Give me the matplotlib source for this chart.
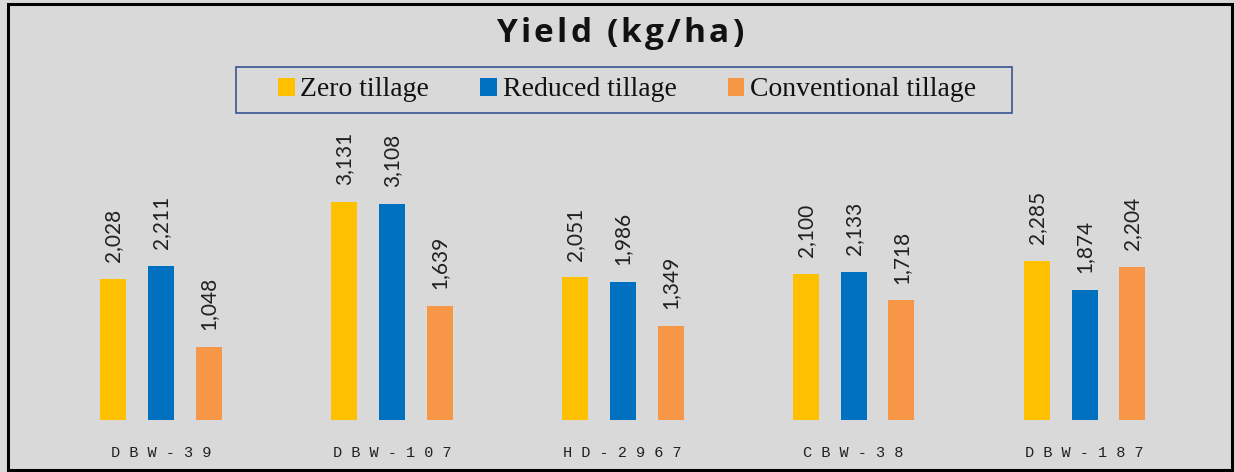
import numpy as np
from matplotlib import pyplot as plt
from matplotlib.patches import Rectangle, Patch

# data
varieties = ['DBW-39', 'DBW-107', 'HD-2967', 'CBW-38', 'DBW-187']
zeroTill = [2028, 3131, 2051, 2100, 2285]
reducedTill = [2211, 3108, 1986, 2133, 1874]
convTill = [1048, 1639, 1349, 1718, 2204]
seriesNames = ['Zero tillage', 'Reduced tillage', 'Conventional tillage']
seriesColors = ['#FFC000', '#0070C0', '#F79646']
title = 'Yield (kg/ha)'

W, H = 1235, 472
bg = '#D9D9D9'
fig = plt.figure(figsize=(W / 100, H / 100), dpi=100)
fig.patch.set_facecolor(bg)

# outer frame
fig.patches.append(Rectangle((8 / W, 2 / H), 1224 / W, 466 / H,
                             transform=fig.transFigure, fill=False,
                             edgecolor='black', linewidth=2.2))

ax = fig.add_axes([45.5 / W, 1 - 420 / H, 1154.5 / W, 243.6 / H])
ax.set_facecolor(bg)
for s in ax.spines.values():
    s.set_visible(False)

x = np.arange(len(varieties))
width = 0.1126
offset = 0.207
allSeries = [zeroTill, reducedTill, convTill]
for i, (vals, col) in enumerate(zip(allSeries, seriesColors)):
    pos = x + (i - 1) * offset
    ax.bar(pos, vals, width, color=col, edgecolor='none')
    for p, v in zip(pos, vals):
        ax.annotate(f'{v:,}', (p, v), xytext=(0, 12), textcoords='offset points',
                    rotation=90, ha='center', va='bottom', fontsize=15,
                    family='Lato', color='#202020')

ax.set_xlim(-0.5, len(varieties) - 0.5)
ax.set_ylim(0, 3500)
ax.set_yticks([])
ax.set_xticks(x)
ax.set_xticklabels([' '.join(v) for v in varieties], family='Liberation Mono',
                   fontsize=11, color='#202020')
ax.tick_params(axis='x', length=0, pad=19)

# title with slightly expanded letter spacing (like the original)
r = fig.canvas.get_renderer()
tprops = dict(fontsize=24, fontweight='bold', family='Open Sans', color='#111111')

def textWidth(s):
    t = fig.text(0, 0, s, **tprops)
    w = t.get_window_extent(r).width
    t.remove()
    return w

extra = 3.2
fullW = textWidth(title) + extra * (len(title) - 1)
x0 = 620 - fullW / 2
for k, ch in enumerate(title):
    if ch == ' ':
        continue
    xk = textWidth(title[:k + 1]) - textWidth(ch) + k * extra
    fig.text((x0 + xk) / W, 1 - 42 / H, ch, ha='left', va='baseline', **tprops)

# legend: frame drawn separately so it can be wider than its contents
fig.patches.append(Rectangle((236 / W, 1 - 113 / H), 776 / W, 46 / H,
                             transform=fig.transFigure, facecolor=bg,
                             edgecolor='#3B5490', linewidth=1.2))
handles = [Patch(facecolor=c, edgecolor='none') for c in seriesColors]
leg = fig.legend(handles, seriesNames, loc='center', ncol=3,
                 bbox_to_anchor=(627 / W, 1 - 90 / H),
                 prop={'family': 'Liberation Serif', 'size': 20},
                 frameon=False, handlelength=0.6, handleheight=0.6,
                 handletextpad=0.2, columnspacing=1.85,
                 borderpad=0.3, borderaxespad=0)
for t in leg.get_texts():
    t.set_color('#111111')

fig.savefig('out.png', dpi=100, facecolor=bg)
